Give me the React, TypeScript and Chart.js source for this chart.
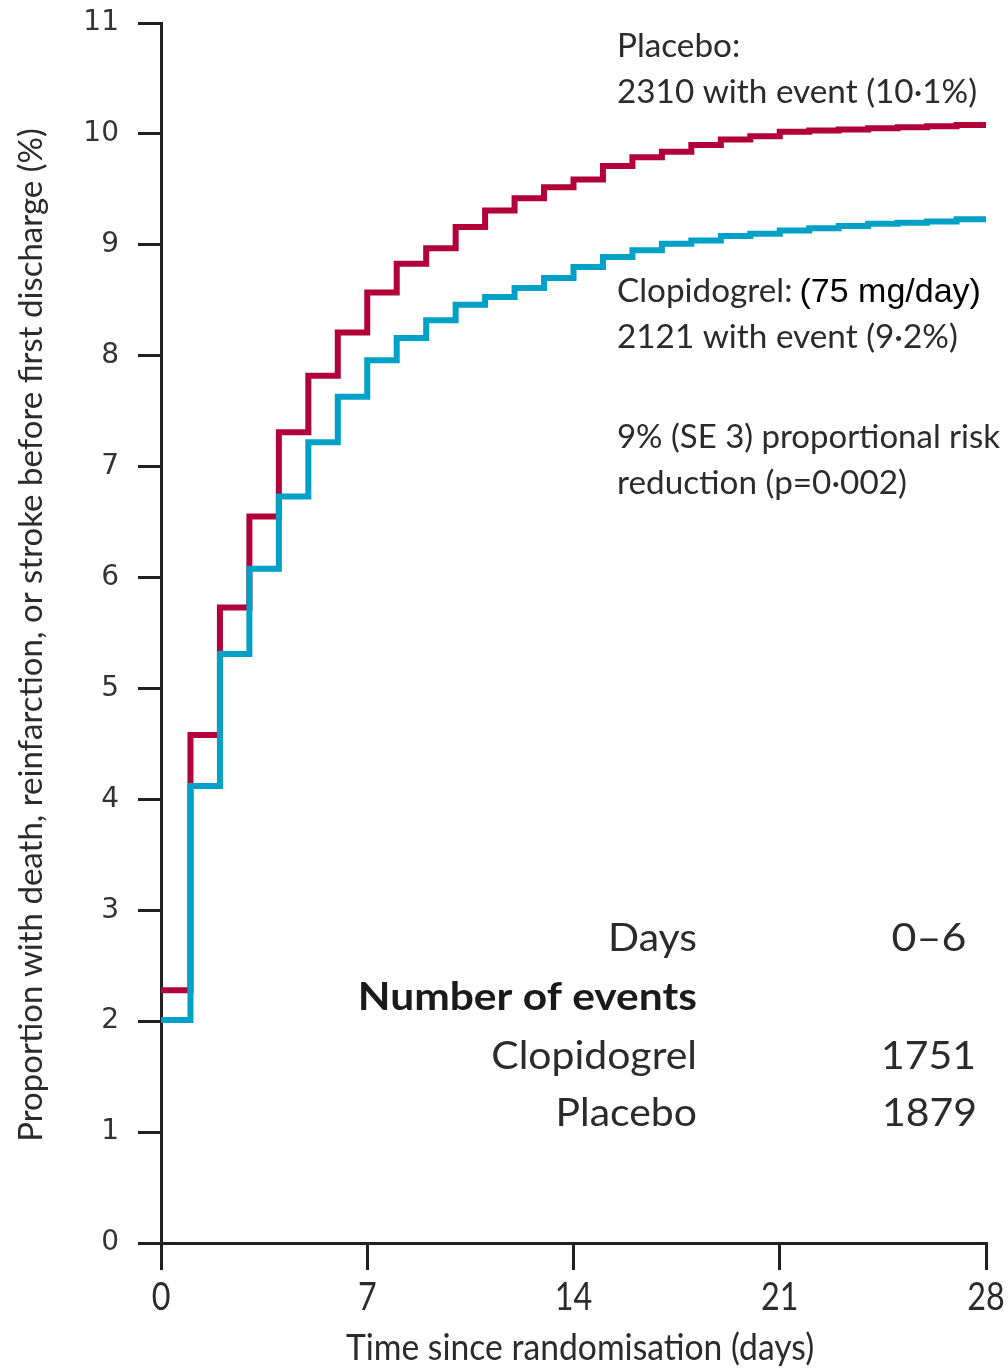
import { useEffect, useRef } from "react";
import { Chart, registerables } from "chart.js";

Chart.register(...registerables);

// Days since randomisation at which each step starts (last entry closes the curve)
const days = [0, 1, 2, 3, 4, 5, 6, 7, 8, 9, 10, 11, 12, 13, 14, 15, 16, 17, 18, 19, 20, 21, 22, 23, 24, 25, 26, 27, 28];

// Cumulative event proportion (%), one value per day interval, repeated at day 28
const placeboPct = [
  2.28, 4.58, 5.73, 6.55, 7.31, 7.82, 8.21, 8.57, 8.83, 8.97, 9.16, 9.31, 9.42, 9.52, 9.59,
  9.71, 9.79, 9.84, 9.9, 9.95, 9.98, 10.02, 10.03, 10.04, 10.05, 10.06, 10.07, 10.08, 10.08,
];
const clopidogrelPct = [
  2.01, 4.12, 5.31, 6.08, 6.73, 7.22, 7.63, 7.96, 8.16, 8.32, 8.46, 8.53, 8.61, 8.7, 8.8,
  8.89, 8.95, 9.01, 9.04, 9.08, 9.1, 9.13, 9.15, 9.17, 9.19, 9.2, 9.21, 9.23, 9.23,
];

const xTicks = [0, 7, 14, 21, 28];
const yMax = 11;

const xTitle = "Time since randomisation (days)";
const yTitle = "Proportion with death, reinfarction, or stroke before first discharge (%)";

const tableDays = "0\u20136";
const eventsClopidogrel = "1751";
const eventsPlacebo = "1879";

const RED = "#b1003a";
const BLUE = "#00a1c6";
const INK = "#231f20";
const TEXT = "#2b2b2b";
const HUMANIST = "Lato";

function drawText(
  ctx: CanvasRenderingContext2D,
  text: string,
  x: number,
  y: number,
  font: string,
  align: CanvasTextAlign,
  sx = 1,
  color = TEXT
) {
  ctx.save();
  ctx.font = font;
  ctx.fillStyle = color;
  ctx.textBaseline = "alphabetic";
  const w = ctx.measureText(text).width * sx;
  let left = x;
  if (align === "right") left = x - w;
  else if (align === "center") left = x - w / 2;
  ctx.translate(left, y);
  ctx.scale(sx, 1);
  ctx.textAlign = "left";
  ctx.fillText(text, 0, 0);
  ctx.restore();
  return w;
}

const annotations = {
  id: "annotations",
  afterDraw(chart: Chart) {
    const ctx = chart.ctx;
    const xs = chart.scales.x;

    // x tick labels
    for (const t of xTicks) {
      drawText(ctx, String(t), xs.getPixelForValue(t), 1310, `38px ${HUMANIST}`, "center", 0.85);
    }
    // x title
    drawText(ctx, xTitle, 580, 1360, `37px ${HUMANIST}`, "center", 0.91);

    // y title (rotated)
    ctx.save();
    ctx.translate(42, 635);
    ctx.rotate(-Math.PI / 2);
    drawText(ctx, yTitle, 0, 0, `33px ${HUMANIST}`, "center", 1.0);
    ctx.restore();

    // Summary text, upper right
    const f1 = `32px ${HUMANIST}`;
    const s1 = 1.04;
    drawText(ctx, "Placebo:", 617, 57, f1, "left", s1);
    drawText(ctx, "2310 with event (10\u00b71%)", 617, 103, f1, "left", s1);
    const w = drawText(ctx, "Clopidogrel:", 617, 302, f1, "left", s1);
    drawText(ctx, "(75 mg/day)", 617 + w + 7, 302, `34px "Liberation Sans", Arial, sans-serif`, "left", 1, "#000");
    drawText(ctx, "2121 with event (9\u00b72%)", 617, 348, f1, "left", s1);
    drawText(ctx, "9% (SE 3) proportional risk", 617, 448, f1, "left", 1.03);
    drawText(ctx, "reduction (p=0\u00b7002)", 617, 494, f1, "left", s1);

    // Events table
    const f2 = `39px ${HUMANIST}`;
    const f2b = `bold 39px ${HUMANIST}`;
    const s2 = 1.05;
    drawText(ctx, "Days", 697, 951, f2, "right", s2);
    drawText(ctx, tableDays, 929, 951, f2, "center", s2 * 1.05);
    drawText(ctx, "Number of events", 697, 1010, f2b, "right", 1.09, "#1a1a1a");
    drawText(ctx, "Clopidogrel", 697, 1069, f2, "right", s2);
    drawText(ctx, eventsClopidogrel, 976, 1069, f2, "right", s2);
    drawText(ctx, "Placebo", 697, 1126, f2, "right", s2);
    drawText(ctx, eventsPlacebo, 977, 1126, f2, "right", s2);
  },
};

export default function App() {
  const canvasRef = useRef<HTMLCanvasElement | null>(null);

  useEffect(() => {
    const canvas = canvasRef.current;
    if (!canvas) return;
    const toPoints = (vals: number[]) => days.map((d, i) => ({ x: d, y: vals[i] }));

    const chart = new Chart(canvas, {
      type: "line",
      data: {
        datasets: [
          {
            label: "Clopidogrel",
            data: toPoints(clopidogrelPct),
            borderColor: BLUE,
            borderWidth: 6,
            stepped: "before",
            pointRadius: 0,
            fill: false,
            order: 0,
          },
          {
            label: "Placebo",
            data: toPoints(placeboPct),
            borderColor: RED,
            borderWidth: 6,
            stepped: "before",
            pointRadius: 0,
            fill: false,
            order: 1,
          },
        ],
      },
      options: {
        animation: false,
        responsive: false,
        devicePixelRatio: 1,
        layout: { padding: { left: 0, right: 22, top: 23, bottom: 0 } },
        plugins: { legend: { display: false }, tooltip: { enabled: false } },
        elements: { line: { borderCapStyle: "butt", borderJoinStyle: "miter" } },
        scales: {
          x: {
            type: "linear",
            min: 0,
            max: 28,
            afterFit: (s: any) => {
              s.height = 125;
              s.paddingLeft = 0;
              s.paddingRight = 0;
            },
            afterBuildTicks: (s: any) => {
              s.ticks = xTicks.map((v) => ({ value: v }));
            },
            ticks: { display: false },
            grid: {
              drawOnChartArea: false,
              drawTicks: true,
              tickLength: 27,
              color: INK,
              lineWidth: 3,
            },
            border: { display: true, color: INK, width: 3 },
          },
          y: {
            type: "linear",
            min: 0,
            max: yMax,
            afterFit: (s: any) => {
              s.width = 161;
              s.paddingTop = 0;
              s.paddingBottom = 0;
            },
            ticks: {
              stepSize: 1,
              color: "#333",
              padding: 19,
              font: { family: "DejaVu Sans", size: 28 },
            },
            grid: {
              drawOnChartArea: false,
              drawTicks: true,
              tickLength: 23,
              color: INK,
              lineWidth: 3,
            },
            border: { display: true, color: INK, width: 3 },
          },
        },
      },
      plugins: [annotations],
    });
    return () => chart.destroy();
  }, []);

  return (
    <div style={{ position: "absolute", left: 0, top: 0, width: 1008, height: 1368, background: "#fff" }}>
      <canvas ref={canvasRef} width={1008} height={1368} />
    </div>
  );
}
